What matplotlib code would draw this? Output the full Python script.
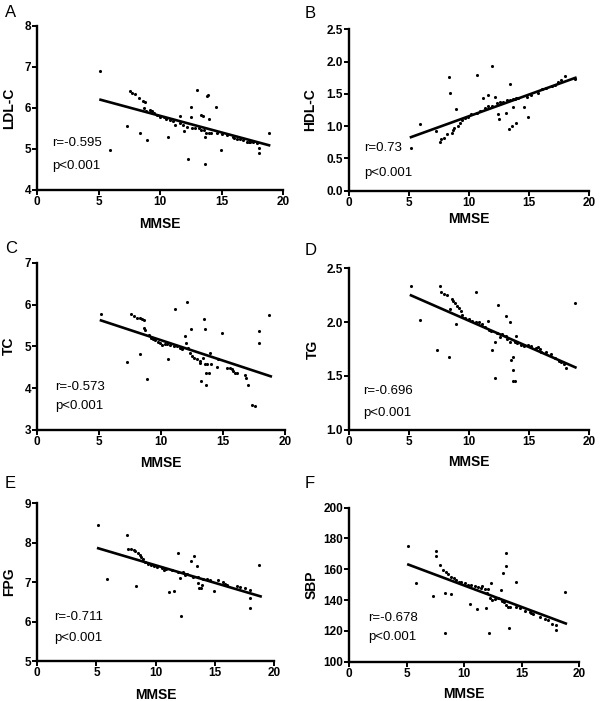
import matplotlib
matplotlib.use("Agg")
import matplotlib.pyplot as plt

plt.rcParams['font.family'] = ['Liberation Sans', 'DejaVu Sans']

# MMSE vs. each marker
ldl_x = [5.14, 5.89, 7.30, 7.57, 7.70, 7.92, 8.24, 8.38, 8.59, 8.73, 8.65, 8.84, 8.92, 9.14, 9.32,
         9.51, 9.73, 10.0, 10.27, 10.62, 10.46, 10.81, 11.08, 11.22, 11.62, 11.57, 11.84, 11.95, 12.16,
         12.22, 12.49, 12.49, 12.57, 12.84, 13.03, 13.19, 13.32, 13.51, 13.32, 13.57, 13.65, 13.70,
         13.68, 13.78, 13.92, 13.97, 14.0, 14.16, 14.57, 14.65, 14.95, 15.0, 15.41, 15.95, 16.0, 16.22,
         16.5, 16.76, 17.03, 17.2, 17.30, 17.57, 17.84, 18.0, 18.0, 18.86]
ldl_y = [6.89, 4.97, 5.57, 6.42, 6.36, 6.33, 6.25, 5.38, 6.18, 6.15, 5.99, 5.93, 5.22, 5.95, 5.93,
         5.87, 5.83, 5.79, 5.77, 5.28, 5.74, 5.71, 5.67, 5.59, 5.81, 5.63, 5.59, 5.44, 5.54,
         4.75, 6.03, 5.79, 5.50, 5.50, 6.44, 5.50, 5.83, 5.80, 5.46, 5.46, 5.28, 5.38,
         4.63, 6.28, 6.32, 5.73, 5.38, 5.38, 6.02, 5.38, 4.98, 5.36, 5.34, 5.30, 5.27, 5.25,
         5.24, 5.22, 5.18, 5.17, 5.18, 5.18, 5.15, 5.02, 4.89, 5.38]

hdl_x = [5.14, 5.89, 7.22, 7.56, 7.69, 7.89, 8.11, 8.33, 8.39, 8.53, 8.67, 8.72, 8.89, 9.08, 9.22,
         9.44, 9.64, 9.92, 10.19, 10.61, 10.61, 10.89, 11.17, 11.31, 11.58, 11.58, 11.86, 11.92, 12.14,
         12.28, 12.42, 12.47, 12.56, 12.83, 13.06, 13.11, 13.31, 13.39, 13.44, 13.58, 13.67, 13.67,
         13.81, 13.94, 13.94, 14.08, 14.56, 14.78, 14.92, 15.19, 15.75, 16.03, 16.44, 16.86, 17.14,
         17.42, 17.69, 17.97, 18.81]
hdl_y = [0.66, 1.03, 0.93, 0.75, 0.80, 0.82, 0.88, 1.76, 1.51, 0.90, 0.94, 0.97, 1.27, 1.01, 1.05,
         1.10, 1.13, 1.15, 1.19, 1.80, 1.20, 1.23, 1.44, 1.28, 1.49, 1.31, 1.32, 1.94, 1.45,
         1.36, 1.19, 1.11, 1.38, 1.38, 1.20, 1.41, 0.96, 1.41, 1.65, 1.00, 1.29, 1.42,
         1.42, 1.05, 1.44, 1.44, 1.29, 1.46, 1.15, 1.49, 1.51, 1.57, 1.59, 1.62, 1.64,
         1.68, 1.72, 1.78, 1.73]

tc_x = [5.15, 7.25, 7.57, 7.79, 8.05, 8.27, 8.32, 8.46, 8.59, 8.64, 8.72, 8.86, 9.05, 9.18, 9.34,
        9.53, 9.72, 9.93, 10.07, 10.34, 10.47, 10.55, 10.74, 11.01, 11.14, 11.28, 11.54, 11.68, 11.89,
        12.0, 12.08, 12.21, 12.35, 12.40, 12.48, 12.62, 12.89, 13.10, 13.15, 13.24, 13.42, 13.48,
        13.56, 13.56, 13.64, 13.64, 13.74, 13.83, 13.91, 14.01, 14.50, 14.63, 14.90, 15.30, 15.57,
        15.70, 15.84, 15.97, 16.11, 16.78, 16.86, 17.05, 17.32, 17.58, 17.88, 17.88, 18.74]
tc_y = [5.78, 4.63, 5.78, 5.72, 5.68, 5.67, 4.81, 5.66, 5.62, 5.45, 5.40, 4.21, 5.27, 5.21, 5.17,
        5.16, 5.11, 5.08, 5.04, 5.05, 5.05, 4.69, 5.04, 5.01, 5.90, 5.01, 4.97, 4.93, 5.24,
        5.09, 6.07, 4.97, 4.85, 5.41, 4.77, 4.73, 4.69, 4.65, 4.61, 4.17, 4.73, 5.66,
        5.41, 4.57, 4.37, 4.07, 4.57, 4.37, 4.85, 4.57, 4.51, 4.69, 5.32, 4.49, 4.49,
        4.45, 4.41, 4.37, 4.35, 4.31, 4.23, 4.07, 3.60, 3.56, 5.37, 5.09, 5.76]

tg_x = [5.11, 5.86, 7.28, 7.56, 7.67, 7.89, 8.17, 8.36, 8.31, 8.53, 8.67, 8.78, 8.86, 9.0, 9.14,
        9.28, 9.42, 9.69, 9.97, 10.25, 10.58, 10.53, 10.81, 11.08, 11.31, 11.56, 11.64, 11.83, 11.94,
        12.11, 12.14, 12.33, 12.42, 12.56, 12.75, 13.03, 13.03, 13.17, 13.39, 13.39, 13.50, 13.61,
        13.61, 13.61, 13.78, 13.78, 13.94, 14.0, 14.28, 14.56, 14.92, 15.19, 15.53, 15.72, 15.89,
        16.0, 16.36, 16.83, 17.19, 17.47, 17.67, 17.94, 18.03, 18.78]
tg_y = [2.34, 2.02, 1.74, 2.34, 2.28, 2.26, 2.25, 2.12, 1.68, 2.22, 2.20, 2.18, 1.98, 2.15, 2.13,
        2.10, 2.07, 2.04, 2.03, 2.01, 2.28, 2.00, 2.00, 1.98, 1.96, 2.01, 1.93, 1.92, 1.74,
        1.82, 1.48, 1.90, 2.16, 1.86, 1.89, 2.06, 1.87, 1.84, 2.00, 1.82, 1.65, 1.68,
        1.56, 1.45, 1.45, 1.82, 1.87, 1.81, 1.79, 1.78, 1.79, 1.78, 1.76, 1.77, 1.75,
        1.72, 1.72, 1.70, 1.67, 1.64, 1.63, 1.61, 1.57, 2.18]

fpg_x = [5.13, 5.89, 7.57, 7.63, 7.91, 8.13, 8.27, 8.36, 8.50, 8.64, 8.75, 8.92, 9.12, 9.31, 9.59,
         9.87, 10.15, 10.52, 10.66, 10.88, 11.16, 11.36, 11.56, 11.87, 11.92, 12.09, 12.12, 12.29,
         12.48, 12.62, 12.99, 13.18, 13.27, 13.46, 13.60, 13.60, 13.66, 13.83, 13.88, 14.03, 14.31,
         14.59, 14.92, 15.29, 15.71, 15.85, 15.99, 16.83, 17.11, 17.53, 17.95, 17.95, 17.95, 18.74]
fpg_y = [8.44, 7.09, 8.20, 7.85, 7.85, 7.82, 7.80, 6.90, 7.75, 7.69, 7.64, 7.58, 7.51, 7.45, 7.43,
         7.41, 7.38, 7.36, 7.32, 7.34, 6.75, 7.30, 6.77, 7.74, 7.26, 7.11, 6.15, 7.25,
         7.17, 7.21, 7.53, 7.13, 7.66, 7.41, 7.13, 6.99, 6.84, 6.84, 6.94, 7.09, 7.07,
         7.05, 6.78, 7.05, 7.00, 6.96, 6.94, 6.90, 6.88, 6.85, 6.79, 6.60, 6.35, 7.43]

sbp_x = [5.13, 5.80, 7.25, 7.54, 7.59, 7.88, 8.17, 8.32, 8.35, 8.46, 8.64, 8.84, 8.90, 9.10, 9.33,
         9.57, 9.77, 10.06, 10.35, 10.55, 10.64, 10.93, 11.16, 11.22, 11.51, 11.57, 11.80, 11.88,
         12.0, 12.09, 12.14, 12.23, 12.38, 12.46, 12.67, 12.96, 13.25, 13.30, 13.39, 13.45, 13.62,
         13.68, 13.68, 13.83, 13.91, 13.97, 14.49, 14.55, 14.84, 15.28, 15.71, 15.86, 16.0, 16.58,
         17.01, 17.30, 17.68, 17.97, 17.97, 18.75]
sbp_y = [175.3, 150.9, 142.6, 171.9, 168.6, 162.8, 159.5, 144.8, 118.4, 158.0, 156.9, 143.9, 155.2,
         154.1, 153.0, 151.9, 151.5, 150.9, 149.8, 137.2, 149.8, 149.4, 134.2, 148.7, 148.1, 149.4,
         147.2, 135.1, 144.4, 147.2, 118.4, 141.1, 150.9, 140.0, 140.7, 141.1, 146.5, 139.4, 157.4,
         138.5, 170.3, 162.3, 136.8, 135.7, 122.1, 135.7, 151.9, 135.7, 135.1, 132.9, 132.5, 131.4,
         130.7, 129.2, 127.7, 127.1, 124.5, 123.8, 120.6, 145.0]

# regression line: y at x=5.15 and x=18.85
fit_x = [5.15, 18.85]
ldl_fit = [6.20, 5.09]
hdl_fit = [0.83, 1.75]
tc_fit = [5.62, 4.28]
tg_fit = [2.25, 1.58]
fpg_fit = [7.86, 6.64]
sbp_fit = [163.0, 124.8]

letters = ['A', 'B', 'C', 'D', 'E', 'F']
ylabels = ['LDL-C', 'HDL-C', 'TC', 'TG', 'FPG', 'SBP']
r_texts = ['r=-0.595', 'r=0.73', 'r=-0.573', 'r=-0.696', 'r=-0.711', 'r=-0.678']
yticks = [[4, 5, 6, 7, 8],
          [0.0, 0.5, 1.0, 1.5, 2.0, 2.5],
          [3, 4, 5, 6, 7],
          [1.0, 1.5, 2.0, 2.5],
          [5, 6, 7, 8, 9],
          [100, 120, 140, 160, 180, 200]]
ytick_fmt = ['{:.0f}', '{:.1f}', '{:.0f}', '{:.1f}', '{:.0f}', '{:.0f}']
xs = [ldl_x, hdl_x, tc_x, tg_x, fpg_x, sbp_x]
ys = [ldl_y, hdl_y, tc_y, tg_y, fpg_y, sbp_y]
fits = [ldl_fit, hdl_fit, tc_fit, tg_fit, fpg_fit, sbp_fit]

# axes boxes in figure fractions (left, bottom, width, height)
boxes = [(0.062, 0.729, 0.410, 0.234),
         (0.582, 0.728, 0.400, 0.230),
         (0.062, 0.387, 0.413, 0.238),
         (0.582, 0.387, 0.400, 0.230),
         (0.062, 0.057, 0.395, 0.225),
         (0.582, 0.056, 0.383, 0.220)]
ylab_x = [-0.087, -0.133, -0.087, -0.121, -0.089, -0.135]
xlab_y = [-0.165, -0.13, -0.16, -0.155, -0.17, -0.162]
r_pos = [(0.06, 0.287, 0.146), (0.062, 0.267, 0.11), (0.073, 0.257, 0.144),
         (0.058, 0.242, 0.106), (0.072, 0.278, 0.146), (0.083, 0.286, 0.162)]

fig = plt.figure(figsize=(6.0, 7.01), dpi=100)

for i in range(6):
    ax = fig.add_axes(boxes[i])
    ax.scatter(xs[i], ys[i], s=5, color='black', linewidths=0, zorder=3)
    ax.plot(fit_x, fits[i], color='black', linewidth=1.9, zorder=2)
    ax.set_xlim(0, 20)
    ax.set_ylim(yticks[i][0], yticks[i][-1])
    ax.set_xticks([0, 5, 10, 15, 20])
    ax.set_yticks(yticks[i])
    ax.set_yticklabels([ytick_fmt[i].format(v) for v in yticks[i]])
    for s in ['top', 'right']:
        ax.spines[s].set_visible(False)
    for s in ['left', 'bottom']:
        ax.spines[s].set_linewidth(1.7)
    ax.tick_params(direction='out', length=3.5, width=1.4, pad=1, labelsize=8.5)
    for lab in ax.get_xticklabels() + ax.get_yticklabels():
        lab.set_fontweight('bold')
    ax.set_xlabel('MMSE', fontsize=10, fontweight='bold')
    ax.set_ylabel(ylabels[i], fontsize=10, fontweight='bold')
    ax.xaxis.set_label_coords(0.5, xlab_y[i])
    ax.yaxis.set_label_coords(ylab_x[i], 0.5)
    px, ry, py = r_pos[i]
    ax.text(px, ry, r_texts[i], transform=ax.transAxes, fontsize=9.5, va='center', ha='left')
    ax.text(px, py, 'p<0.001', transform=ax.transAxes, fontsize=9.5, va='center', ha='left')
    ax.patch.set_alpha(0)

# panel letters
letter_pos = [(0.008, 0.982), (0.508, 0.981), (0.008, 0.645), (0.508, 0.642), (0.008, 0.31), (0.508, 0.31)]
for i in range(6):
    fig.text(letter_pos[i][0], letter_pos[i][1], letters[i], fontsize=12, va='center', ha='left')

fig.savefig('out.png', dpi=100)
